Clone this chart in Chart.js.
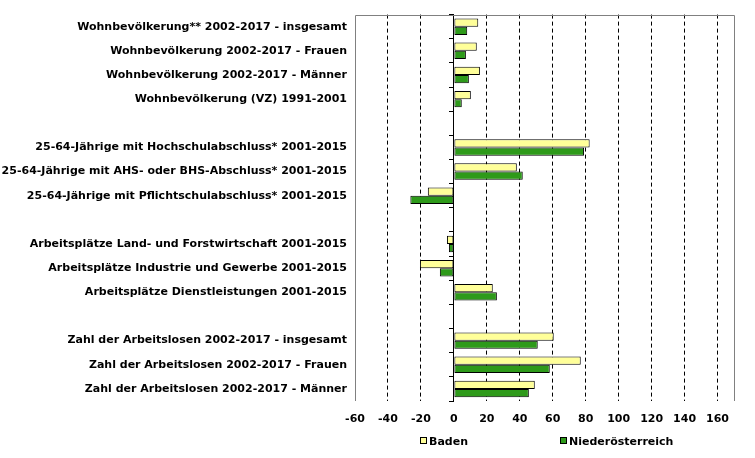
<!DOCTYPE html>
<html>
<head>
<meta charset="utf-8">
<script src="https://cdn.jsdelivr.net/npm/chart.js@4/dist/chart.umd.min.js"></script>
<style>
  html, body { margin: 0; padding: 0; background: #fff; }
  #wrap { position: relative; width: 755px; height: 458px; }
  canvas { position: absolute; left: 0; top: 0; }
  .leg { position: absolute; top: 435px; font: bold 11px "DejaVu Sans", Verdana, sans-serif; color: #000; white-space: nowrap; }
  .leg span.box { display: inline-block; width: 5px; height: 5px; border: 1px solid #000; margin-right: 2px; vertical-align: 1px; }
</style>
</head>
<body>
<div id="wrap">
  <canvas id="c" width="755" height="458"></canvas>
  <div class="leg" id="leg1" style="left:420px;"><span class="box" style="background:#FFFF99"></span>Baden</div>
  <div class="leg" id="leg2" style="left:560px;"><span class="box" style="background:#2E9A1A"></span>Niederösterreich</div>
</div>
<script>
const categories = [
  "Wohnbevölkerung** 2002-2017 - insgesamt",
  "Wohnbevölkerung 2002-2017 - Frauen",
  "Wohnbevölkerung 2002-2017 - Männer",
  "Wohnbevölkerung (VZ) 1991-2001",
  "",
  "25-64-Jährige mit Hochschulabschluss* 2001-2015",
  "25-64-Jährige mit AHS- oder BHS-Abschluss* 2001-2015",
  "25-64-Jährige mit Pflichtschulabschluss* 2001-2015",
  " ",
  "Arbeitsplätze Land- und Forstwirtschaft 2001-2015",
  "Arbeitsplätze Industrie und Gewerbe 2001-2015",
  "Arbeitsplätze Dienstleistungen 2001-2015",
  "  ",
  "Zahl der Arbeitslosen 2002-2017 - insgesamt",
  "Zahl der Arbeitslosen 2002-2017 - Frauen",
  "Zahl der Arbeitslosen 2002-2017 - Männer"
];
const seriesNames = ["Baden", "Niederösterreich"];
const baden = [14.8, 13.9, 15.8, 10.3, null, 82.4, 38.2, -15.8, null, -4.2, -20.6, 23.6, null, 60.6, 77.0, 49.1];
const noe   = [8.1, 7.3, 9.1, 4.8, null, 79.0, 41.8, -26.4, null, -3.0, -8.5, 26.1, null, 50.9, 58.2, 45.5];
const xTickValues = [-60, -40, -20, 0, 20, 40, 60, 80, 100, 120, 140, 160];
const xMin = -60, xMax = 170;

const FONT = { family: '"DejaVu Sans", Verdana, sans-serif', size: 11, weight: 'bold' };

const framePlugin = {
  id: 'frame',
  beforeDatasetsDraw(chart) {
    const { ctx, chartArea: a } = chart;
    ctx.save();
    ctx.strokeStyle = '#808080';
    ctx.lineWidth = 1;
    ctx.beginPath();
    ctx.moveTo(Math.round(a.left) + 0.5, Math.round(a.bottom));
    ctx.lineTo(Math.round(a.left) + 0.5, Math.round(a.top) + 0.5);
    ctx.lineTo(Math.round(a.right) + 0.5, Math.round(a.top) + 0.5);
    ctx.lineTo(Math.round(a.right) + 0.5, Math.round(a.bottom));
    ctx.stroke();
    ctx.restore();
  }
};

new Chart(document.getElementById('c'), {
  type: 'bar',
  data: {
    labels: categories,
    datasets: [
      { label: seriesNames[0], data: baden, backgroundColor: '#FFFF99', borderColor: '#000', borderWidth: 1, borderSkipped: false, yAxisID: 'y' },
      { label: seriesNames[1], data: noe, backgroundColor: '#2E9A1A', borderColor: '#000', borderWidth: 1, borderSkipped: false, yAxisID: 'y' }
    ]
  },
  options: {
    indexAxis: 'y',
    responsive: false,
    animation: false,
    devicePixelRatio: 1,
    layout: { padding: { top: 12, right: 21, left: 0, bottom: 0 } },
    datasets: { bar: { categoryPercentage: 0.68, barPercentage: 1.0 } },
    plugins: { legend: { display: false }, tooltip: { enabled: false } },
    scales: {
      x: {
        type: 'linear',
        min: xMin, max: xMax,
        afterBuildTicks(scale) { scale.ticks = xTickValues.map(v => ({ value: v })); },
        afterFit(scale) { scale.height = 57; },
        ticks: { color: '#000', font: FONT, padding: 12, maxRotation: 0, autoSkip: false },
        grid: {
          drawTicks: false,
          color: (c) => (c.tick && (c.tick.value === xMin || c.tick.value === 0)) ? 'rgba(0,0,0,0)' : '#000',
          lineWidth: 1
        },
        border: { display: false, dash: [4, 3] }
      },
      y: {
        type: 'category',
        offset: true,
        afterFit(scale) { scale.width = 355; },
        ticks: { color: '#000', font: FONT, padding: 8, autoSkip: false },
        grid: { display: false, drawTicks: false },
        border: { display: false }
      },
      y2: {
        type: 'category',
        labels: categories,
        position: { x: 0 },
        offset: true,
        ticks: { display: false },
        grid: { offset: true, drawOnChartArea: false, drawTicks: true, tickLength: 4, color: '#000', lineWidth: 1 },
        border: { display: true, color: '#000', width: 1 }
      }
    }
  },
  plugins: [framePlugin]
});
</script>
</body>
</html>
